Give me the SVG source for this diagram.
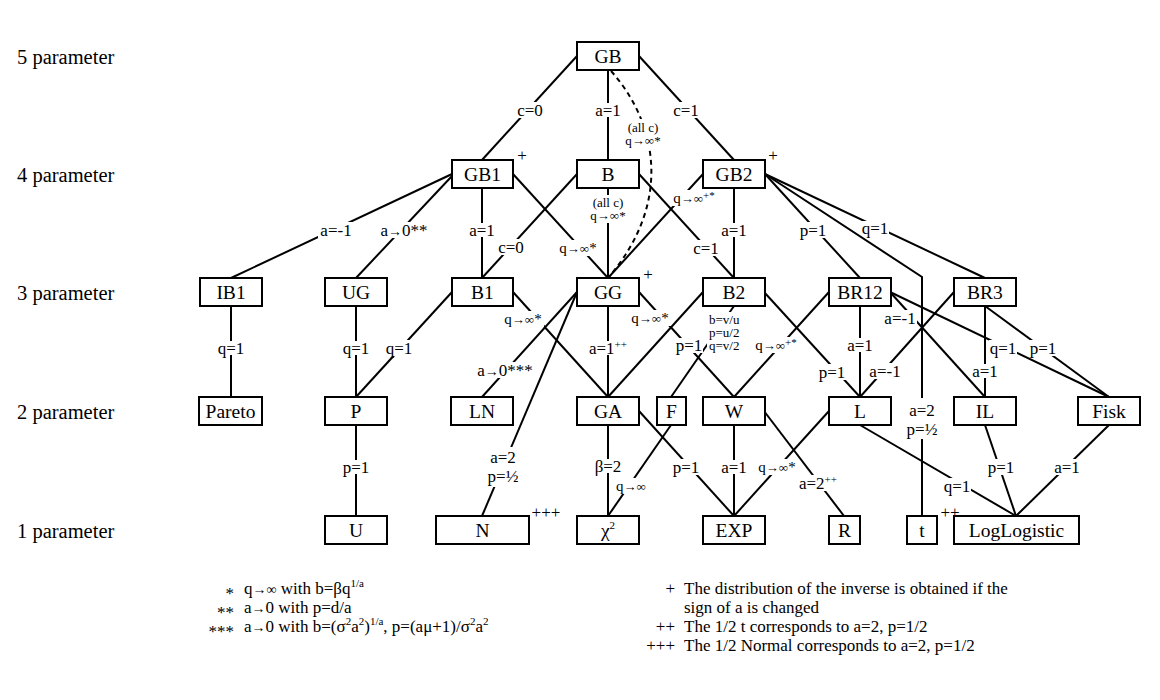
<svg xmlns="http://www.w3.org/2000/svg" width="1160" height="700" viewBox="0 0 1160 700" font-family="'Liberation Serif','Times New Roman','DejaVu Serif',serif">
<style>
text{font-family:"Liberation Serif","Times New Roman","DejaVu Serif",serif;fill:#000}
.node rect{fill:#fff;stroke:#000;stroke-width:2}
.node text{font-size:19.5px;text-anchor:middle}
.c line,.c polyline,.c path{stroke:#000;stroke-width:2;fill:none}
.c .dash{stroke-dasharray:5 4}
.l rect{fill:#fff}
.l text{font-size:17px;text-anchor:middle}
.l text.s{font-size:15px}
.l text.xs{font-size:13px}
.l text.bl{font-size:13px;text-anchor:start}
.ar{font-size:13px}
.ar2{font-size:14px}
.sup{font-size:11px}
.lvl{font-size:20.5px}
.fn{font-size:17px}
.fm{font-size:17px;text-anchor:end}
.mk{font-size:17px;text-anchor:middle}
</style>
<rect width="1160" height="700" fill="#fff"/>

<g id="levels">
<text class="lvl" x="17" y="63.5">5 parameter</text>
<text class="lvl" x="17" y="181.5">4 parameter</text>
<text class="lvl" x="17" y="299.5">3 parameter</text>
<text class="lvl" x="17" y="418.5">2 parameter</text>
<text class="lvl" x="17" y="537.5">1 parameter</text>
</g>

<g id="connectors" class="c">
<line x1="577" y1="56" x2="482" y2="160"/>
<line x1="608" y1="70" x2="608" y2="160"/>
<line x1="639" y1="56" x2="734" y2="160"/>
<path class="dash" d="M611,71 C655,120 675,200 608,278"/>
<line x1="452" y1="174" x2="231" y2="278"/>
<line x1="452" y1="176" x2="356" y2="278"/>
<line x1="482" y1="188" x2="482" y2="278"/>
<line x1="513" y1="174" x2="608" y2="278"/>
<line x1="577" y1="174" x2="482" y2="278"/>
<line x1="608" y1="188" x2="608" y2="278"/>
<line x1="639" y1="174" x2="734" y2="278"/>
<line x1="703" y1="174" x2="608" y2="278"/>
<line x1="734" y1="188" x2="734" y2="278"/>
<line x1="765" y1="174" x2="860" y2="278"/>
<polyline points="765,174 922,277 922,516"/>
<line x1="765" y1="174" x2="985" y2="278"/>
<line x1="231" y1="306" x2="231" y2="397"/>
<line x1="356" y1="306" x2="356" y2="397"/>
<line x1="452" y1="292" x2="356" y2="397"/>
<line x1="513" y1="292" x2="608" y2="397"/>
<line x1="577" y1="292" x2="482" y2="397"/>
<line x1="577" y1="292" x2="482" y2="516"/>
<line x1="608" y1="306" x2="608" y2="397"/>
<line x1="639" y1="292" x2="734" y2="397"/>
<line x1="703" y1="292" x2="608" y2="397"/>
<line x1="734" y1="306" x2="671" y2="397"/>
<line x1="764" y1="292" x2="860" y2="397"/>
<line x1="829" y1="292" x2="734" y2="397"/>
<line x1="860" y1="306" x2="860" y2="397"/>
<line x1="890" y1="292" x2="985" y2="397"/>
<line x1="890" y1="292" x2="1109" y2="397"/>
<line x1="954" y1="292" x2="860" y2="397"/>
<line x1="985" y1="306" x2="985" y2="397"/>
<line x1="985" y1="306" x2="1109" y2="397"/>
<line x1="356" y1="425" x2="356" y2="516"/>
<line x1="608" y1="425" x2="608" y2="516"/>
<line x1="671" y1="425" x2="608" y2="516"/>
<line x1="639" y1="411" x2="734" y2="516"/>
<line x1="734" y1="425" x2="734" y2="516"/>
<line x1="829" y1="411" x2="734" y2="516"/>
<line x1="764" y1="411" x2="844" y2="516"/>
<line x1="860" y1="425" x2="1016" y2="516"/>
<line x1="985" y1="425" x2="1016" y2="516"/>
<line x1="1109" y1="425" x2="1016" y2="516"/>
</g>

<g id="edge-labels" class="l">
<g><rect x="515" y="102" width="30" height="16"/><text x="530" y="115.5">c=0</text></g>
<g><rect x="593" y="103" width="30" height="14"/><text x="608" y="115.5">a=1</text></g>
<g><rect x="671" y="102" width="30" height="16"/><text x="686" y="115.5">c=1</text></g>
<g><rect x="620" y="119" width="46" height="31"/><text class="xs" x="643" y="132">(all c)</text><text class="xs" x="643" y="145">q<tspan class="ar">→∞</tspan>*</text></g>
<g><rect x="318" y="222" width="36" height="16"/><text x="336" y="235.5">a=-1</text></g>
<g><rect x="379" y="222" width="50" height="16"/><text x="404" y="235.5">a<tspan class="ar2">→</tspan>0**</text></g>
<g><rect x="467" y="223" width="30" height="14"/><text x="482" y="235.5">a=1</text></g>
<g><rect x="557" y="240" width="42" height="16"/><text class="s" x="578" y="253">q<tspan class="ar">→∞</tspan>*</text></g>
<g><rect x="496" y="239" width="30" height="16"/><text x="511" y="252.5">c=0</text></g>
<g><rect x="585" y="195" width="46" height="28"/><text class="xs" x="608" y="207">(all c)</text><text class="xs" x="608" y="220">q<tspan class="ar">→∞</tspan>*</text></g>
<g><rect x="691" y="240" width="30" height="16"/><text x="706" y="253.5">c=1</text></g>
<g><rect x="671" y="190" width="46" height="16"/><text class="s" x="694" y="203">q<tspan class="ar">→∞</tspan><tspan class="sup" dy="-4">+*</tspan></text></g>
<g><rect x="719" y="223" width="30" height="14"/><text x="734" y="235.5">a=1</text></g>
<g><rect x="798" y="222" width="30" height="16"/><text x="813" y="235.5">p=1</text></g>
<g><rect x="861" y="221" width="28" height="14"/><text x="875" y="233.5">q=1</text></g>
<g><rect x="905" y="398" width="34" height="41"/><text x="922" y="415.5">a=2</text><text x="922" y="434.5">p=½</text></g>
<g><rect x="216" y="341" width="30" height="14"/><text x="231" y="353.5">q=1</text></g>
<g><rect x="341" y="341" width="30" height="14"/><text x="356" y="353.5">q=1</text></g>
<g><rect x="384" y="340" width="30" height="16"/><text x="399" y="353.5">q=1</text></g>
<g><rect x="502" y="311" width="42" height="16"/><text class="s" x="523" y="324">q<tspan class="ar">→∞</tspan>*</text></g>
<g><rect x="477" y="362" width="56" height="16"/><text x="505" y="375.5">a<tspan class="ar2">→</tspan>0***</text></g>
<g><rect x="487" y="447" width="32" height="40"/><text x="503" y="462.5">a=2</text><text x="503" y="482">p=½</text></g>
<g><rect x="589" y="341" width="38" height="14"/><text x="608" y="353.5">a=1<tspan class="sup" dy="-6">++</tspan></text></g>
<g><rect x="629" y="310" width="42" height="16"/><text class="s" x="650" y="323">q<tspan class="ar">→∞</tspan>*</text></g>
<g><rect x="676" y="338" width="27" height="15"/><text x="689" y="350.5">p=1</text></g>
<g><rect x="707" y="312" width="37" height="42"/><text class="bl" x="709" y="324">b=v/u</text><text class="bl" x="709" y="337">p=u/2</text><text class="bl" x="709" y="350">q=v/2</text></g>
<g><rect x="818" y="364" width="28" height="16"/><text x="832" y="377.5">p=1</text></g>
<g><rect x="753" y="337" width="46" height="16"/><text class="s" x="776" y="350">q<tspan class="ar">→∞</tspan><tspan class="sup" dy="-4">+*</tspan></text></g>
<g><rect x="845" y="338" width="30" height="14"/><text x="860" y="350.5">a=1</text></g>
<g><rect x="883" y="310" width="34" height="16"/><text x="900" y="323.5">a=-1</text></g>
<g><rect x="989" y="340" width="28" height="16"/><text x="1003" y="353.5">q=1</text></g>
<g><rect x="868" y="363" width="34" height="16"/><text x="885" y="376.5">a=-1</text></g>
<g><rect x="971" y="364" width="28" height="14"/><text x="985" y="376.5">a=1</text></g>
<g><rect x="1029" y="340" width="28" height="16"/><text x="1043" y="353.5">p=1</text></g>
<g><rect x="341" y="460" width="30" height="14"/><text x="356" y="472.5">p=1</text></g>
<g><rect x="594" y="459" width="28" height="14"/><text x="608" y="471.5">β=2</text></g>
<g><rect x="613" y="478" width="36" height="16"/><text class="s" x="631" y="491">q<tspan class="ar">→∞</tspan></text></g>
<g><rect x="672" y="459" width="28" height="16"/><text x="686" y="472.5">p=1</text></g>
<g><rect x="719" y="460" width="30" height="14"/><text x="734" y="472.5">a=1</text></g>
<g><rect x="756" y="459" width="42" height="16"/><text class="s" x="777" y="472">q<tspan class="ar">→∞</tspan>*</text></g>
<g><rect x="800" y="475" width="38" height="16"/><text x="818" y="488.5">a=2<tspan class="sup" dy="-6">++</tspan></text></g>
<g><rect x="943" y="478" width="28" height="16"/><text x="957" y="491.5">q=1</text></g>
<g><rect x="987" y="459" width="28" height="16"/><text x="1001" y="472.5">p=1</text></g>
<g><rect x="1053" y="459" width="28" height="16"/><text x="1067" y="472.5">a=1</text></g>
</g>

<g id="n-GB" class="node"><rect x="577" y="42" width="62" height="28"/><text x="608" y="62.5">GB</text></g>
<g id="n-GB1" class="node"><rect x="452" y="160" width="61" height="28"/><text x="482.5" y="180.5">GB1</text></g>
<g id="n-B" class="node"><rect x="577" y="160" width="62" height="28"/><text x="608" y="180.5">B</text></g>
<g id="n-GB2" class="node"><rect x="703" y="160" width="62" height="28"/><text x="734" y="180.5">GB2</text></g>
<g id="n-IB1" class="node"><rect x="200" y="278" width="62" height="28"/><text x="231" y="298.5">IB1</text></g>
<g id="n-UG" class="node"><rect x="325" y="278" width="62" height="28"/><text x="356" y="298.5">UG</text></g>
<g id="n-B1" class="node"><rect x="452" y="278" width="61" height="28"/><text x="482.5" y="298.5">B1</text></g>
<g id="n-GG" class="node"><rect x="577" y="278" width="62" height="28"/><text x="608" y="298.5">GG</text></g>
<g id="n-B2" class="node"><rect x="703" y="278" width="62" height="28"/><text x="734" y="298.5">B2</text></g>
<g id="n-BR12" class="node"><rect x="829" y="278" width="62" height="28"/><text x="860" y="298.5">BR12</text></g>
<g id="n-BR3" class="node"><rect x="954" y="278" width="62" height="28"/><text x="985" y="298.5">BR3</text></g>
<g id="n-Pareto" class="node"><rect x="199" y="397" width="63" height="28"/><text x="230.5" y="417.5">Pareto</text></g>
<g id="n-P" class="node"><rect x="325" y="397" width="62" height="28"/><text x="356" y="417.5">P</text></g>
<g id="n-LN" class="node"><rect x="451" y="397" width="62" height="28"/><text x="482" y="417.5">LN</text></g>
<g id="n-GA" class="node"><rect x="577" y="397" width="62" height="28"/><text x="608" y="417.5">GA</text></g>
<g id="n-F" class="node"><rect x="657" y="397" width="29" height="28"/><text x="671.5" y="417.5">F</text></g>
<g id="n-W" class="node"><rect x="703" y="397" width="62" height="28"/><text x="734" y="417.5">W</text></g>
<g id="n-L" class="node"><rect x="829" y="397" width="62" height="28"/><text x="860" y="417.5">L</text></g>
<g id="n-IL" class="node"><rect x="954" y="397" width="62" height="28"/><text x="985" y="417.5">IL</text></g>
<g id="n-Fisk" class="node"><rect x="1078" y="397" width="62" height="28"/><text x="1109" y="417.5">Fisk</text></g>
<g id="n-U" class="node"><rect x="325" y="516" width="62" height="28"/><text x="356" y="536.5">U</text></g>
<g id="n-N" class="node"><rect x="436" y="516" width="93" height="28"/><text x="482.5" y="536.5">N</text></g>
<g id="n-chi2" class="node"><rect x="577" y="516" width="62" height="28"/><text x="608" y="536.5">χ<tspan class="sup" dy="-8">2</tspan></text></g>
<g id="n-EXP" class="node"><rect x="703" y="516" width="62" height="28"/><text x="734" y="536.5">EXP</text></g>
<g id="n-R" class="node"><rect x="829" y="516" width="31" height="28"/><text x="844.5" y="536.5">R</text></g>
<g id="n-t" class="node"><rect x="907" y="516" width="30" height="28"/><text x="922" y="536.5">t</text></g>
<g id="n-LogLogistic" class="node"><rect x="954" y="516" width="125" height="28"/><text x="1016.5" y="536.5">LogLogistic</text></g>

<g id="markers">
<text class="mk" x="522" y="161">+</text>
<text class="mk" x="773" y="161">+</text>
<text class="mk" x="648" y="280">+</text>
<text class="mk" x="546" y="518">+++</text>
<text class="mk" x="950" y="518">++</text>
</g>

<g id="footnotes">
<text class="fm" x="234" y="599">*</text>
<text class="fn" x="244" y="594">q<tspan class="ar2">→∞</tspan> with b=βq<tspan class="sup" dy="-7">1/a</tspan></text>
<text class="fm" x="234" y="618">**</text>
<text class="fn" x="244" y="613">a<tspan class="ar2">→</tspan>0 with p=d/a</text>
<text class="fm" x="234" y="637">***</text>
<text class="fn" x="244" y="632">a<tspan class="ar2">→</tspan>0 with b=(σ<tspan class="sup" dy="-7">2</tspan><tspan dy="7">a</tspan><tspan class="sup" dy="-7">2</tspan><tspan dy="7">)</tspan><tspan class="sup" dy="-7">1/a</tspan><tspan dy="7">, p=(aμ+1)/σ</tspan><tspan class="sup" dy="-7">2</tspan><tspan dy="7">a</tspan><tspan class="sup" dy="-7">2</tspan></text>
<text class="fm" x="675" y="594">+</text>
<text class="fn" x="684" y="594">The distribution of the inverse is obtained if the</text>
<text class="fn" x="684" y="613">sign of a is changed</text>
<text class="fm" x="675" y="632">++</text>
<text class="fn" x="684" y="632">The 1/2 t corresponds to a=2, p=1/2</text>
<text class="fm" x="675" y="651">+++</text>
<text class="fn" x="684" y="651">The 1/2 Normal corresponds to a=2, p=1/2</text>
</g>
</svg>
